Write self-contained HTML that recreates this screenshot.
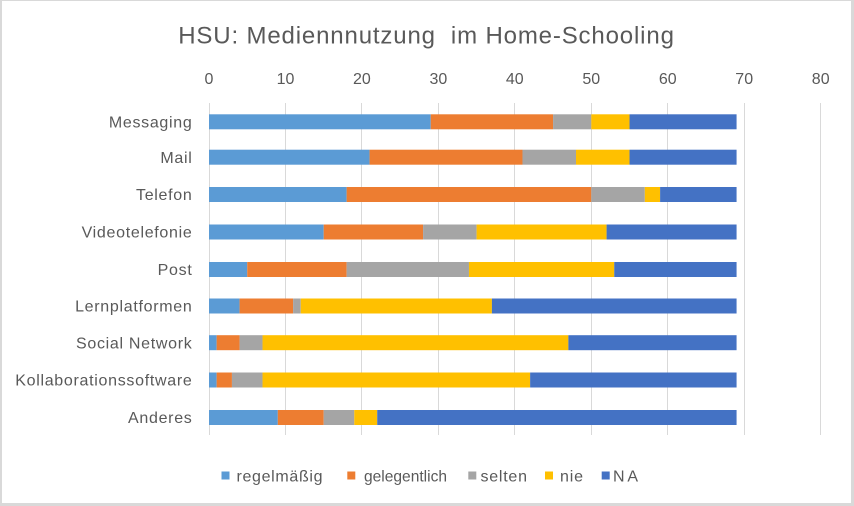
<!DOCTYPE html>
<html>
<head>
<meta charset="utf-8">
<style>
  html, body { margin:0; padding:0; background:#d9d9d9; }
  body { width:854px; height:506px; overflow:hidden; }
  svg { display:block; }
  text { font-family: "Liberation Sans", "DejaVu Sans", sans-serif; fill:#595959; }
</style>
</head>
<body>
<svg width="854" height="506" viewBox="0 0 854 506" xmlns="http://www.w3.org/2000/svg">
  <rect x="2" y="1" width="849" height="502" fill="#ffffff"/>

  <!-- Title -->
  <text x="426.5" y="43.3" font-size="24" text-anchor="middle" letter-spacing="0.85" xml:space="preserve">HSU: Mediennnutzung  im Home-Schooling</text>

  <!-- Tick labels -->
  <g font-size="16" text-anchor="middle">
    <text x="209" y="84">0</text>
    <text x="285.5" y="84">10</text>
    <text x="361.9" y="84">20</text>
    <text x="438.4" y="84">30</text>
    <text x="514.8" y="84">40</text>
    <text x="591.3" y="84">50</text>
    <text x="667.8" y="84">60</text>
    <text x="744.2" y="84">70</text>
    <text x="820.7" y="84">80</text>
  </g>

  <!-- Gridlines -->
  <g stroke="#d9d9d9" stroke-width="1">
    <line x1="209.5" y1="103" x2="209.5" y2="435"/>
    <line x1="285.5" y1="103" x2="285.5" y2="435"/>
    <line x1="361.5" y1="103" x2="361.5" y2="435"/>
    <line x1="438.5" y1="103" x2="438.5" y2="435"/>
    <line x1="514.5" y1="103" x2="514.5" y2="435"/>
    <line x1="591.5" y1="103" x2="591.5" y2="435"/>
    <line x1="667.5" y1="103" x2="667.5" y2="435"/>
    <line x1="744.5" y1="103" x2="744.5" y2="435"/>
    <line x1="820.5" y1="103" x2="820.5" y2="435"/>
  </g>

  <!-- Bars: x in data units -->
  <g transform="translate(209,0) scale(7.646,1)">
    <rect x="0"  y="114.3" width="29" height="15" fill="#5B9BD5"/>
    <rect x="29" y="114.3" width="16" height="15" fill="#ED7D31"/>
    <rect x="45" y="114.3" width="5"  height="15" fill="#A5A5A5"/>
    <rect x="50" y="114.3" width="5"  height="15" fill="#FFC000"/>
    <rect x="55" y="114.3" width="14" height="15" fill="#4472C4"/>

    <rect x="0"  y="149.7" width="21" height="15" fill="#5B9BD5"/>
    <rect x="21" y="149.7" width="20" height="15" fill="#ED7D31"/>
    <rect x="41" y="149.7" width="7"  height="15" fill="#A5A5A5"/>
    <rect x="48" y="149.7" width="7"  height="15" fill="#FFC000"/>
    <rect x="55" y="149.7" width="14" height="15" fill="#4472C4"/>

    <rect x="0"  y="187" width="18" height="15" fill="#5B9BD5"/>
    <rect x="18" y="187" width="32" height="15" fill="#ED7D31"/>
    <rect x="50" y="187" width="7"  height="15" fill="#A5A5A5"/>
    <rect x="57" y="187" width="2"  height="15" fill="#FFC000"/>
    <rect x="59" y="187" width="10" height="15" fill="#4472C4"/>

    <rect x="0"  y="224.5" width="15" height="15" fill="#5B9BD5"/>
    <rect x="15" y="224.5" width="13" height="15" fill="#ED7D31"/>
    <rect x="28" y="224.5" width="7"  height="15" fill="#A5A5A5"/>
    <rect x="35" y="224.5" width="17" height="15" fill="#FFC000"/>
    <rect x="52" y="224.5" width="17" height="15" fill="#4472C4"/>

    <rect x="0"  y="262" width="5"  height="15" fill="#5B9BD5"/>
    <rect x="5"  y="262" width="13" height="15" fill="#ED7D31"/>
    <rect x="18" y="262" width="16" height="15" fill="#A5A5A5"/>
    <rect x="34" y="262" width="19" height="15" fill="#FFC000"/>
    <rect x="53" y="262" width="16" height="15" fill="#4472C4"/>

    <rect x="0"  y="298.5" width="4"  height="15" fill="#5B9BD5"/>
    <rect x="4"  y="298.5" width="7"  height="15" fill="#ED7D31"/>
    <rect x="11" y="298.5" width="1"  height="15" fill="#A5A5A5"/>
    <rect x="12" y="298.5" width="25" height="15" fill="#FFC000"/>
    <rect x="37" y="298.5" width="32" height="15" fill="#4472C4"/>

    <rect x="0"  y="335.2" width="1"  height="15" fill="#5B9BD5"/>
    <rect x="1"  y="335.2" width="3"  height="15" fill="#ED7D31"/>
    <rect x="4"  y="335.2" width="3"  height="15" fill="#A5A5A5"/>
    <rect x="7"  y="335.2" width="40" height="15" fill="#FFC000"/>
    <rect x="47" y="335.2" width="22" height="15" fill="#4472C4"/>

    <rect x="0"  y="372.5" width="1"  height="15" fill="#5B9BD5"/>
    <rect x="1"  y="372.5" width="2"  height="15" fill="#ED7D31"/>
    <rect x="3"  y="372.5" width="4"  height="15" fill="#A5A5A5"/>
    <rect x="7"  y="372.5" width="35" height="15" fill="#FFC000"/>
    <rect x="42" y="372.5" width="27" height="15" fill="#4472C4"/>

    <rect x="0"  y="410" width="9"  height="15" fill="#5B9BD5"/>
    <rect x="9"  y="410" width="6"  height="15" fill="#ED7D31"/>
    <rect x="15" y="410" width="4"  height="15" fill="#A5A5A5"/>
    <rect x="19" y="410" width="3"  height="15" fill="#FFC000"/>
    <rect x="22" y="410" width="47" height="15" fill="#4472C4"/>
  </g>

  <!-- Category labels -->
  <g font-size="16" text-anchor="end" letter-spacing="0.7">
    <text x="192.5" y="127.5">Messaging</text>
    <text x="192.5" y="162.9">Mail</text>
    <text x="192.5" y="200.2">Telefon</text>
    <text x="192.5" y="237.7">Videotelefonie</text>
    <text x="192.5" y="275.2">Post</text>
    <text x="192.5" y="311.7">Lernplatformen</text>
    <text x="192.5" y="348.4">Social Network</text>
    <text x="192.5" y="385.7">Kollaborationssoftware</text>
    <text x="192.5" y="423.2">Anderes</text>
  </g>

  <!-- Legend -->
  <g font-size="16">
    <rect x="221.5" y="471.5" width="8" height="8" fill="#5B9BD5"/>
    <text x="236.5" y="481.3" textLength="86" lengthAdjust="spacing">regelmäßig</text>
    <rect x="347.3" y="471.5" width="8" height="8" fill="#ED7D31"/>
    <text x="364" y="481.3" textLength="83" lengthAdjust="spacingAndGlyphs">gelegentlich</text>
    <rect x="468.3" y="471.5" width="8" height="8" fill="#A5A5A5"/>
    <text x="480.5" y="481.3" textLength="46.5" lengthAdjust="spacing">selten</text>
    <rect x="545" y="471.5" width="8" height="8" fill="#FFC000"/>
    <text x="560" y="481.3" textLength="23" lengthAdjust="spacing">nie</text>
    <rect x="601.7" y="471.5" width="8" height="8" fill="#4472C4"/>
    <text x="613" y="481.3" textLength="25" lengthAdjust="spacing">NA</text>
  </g>
</svg>
</body>
</html>
